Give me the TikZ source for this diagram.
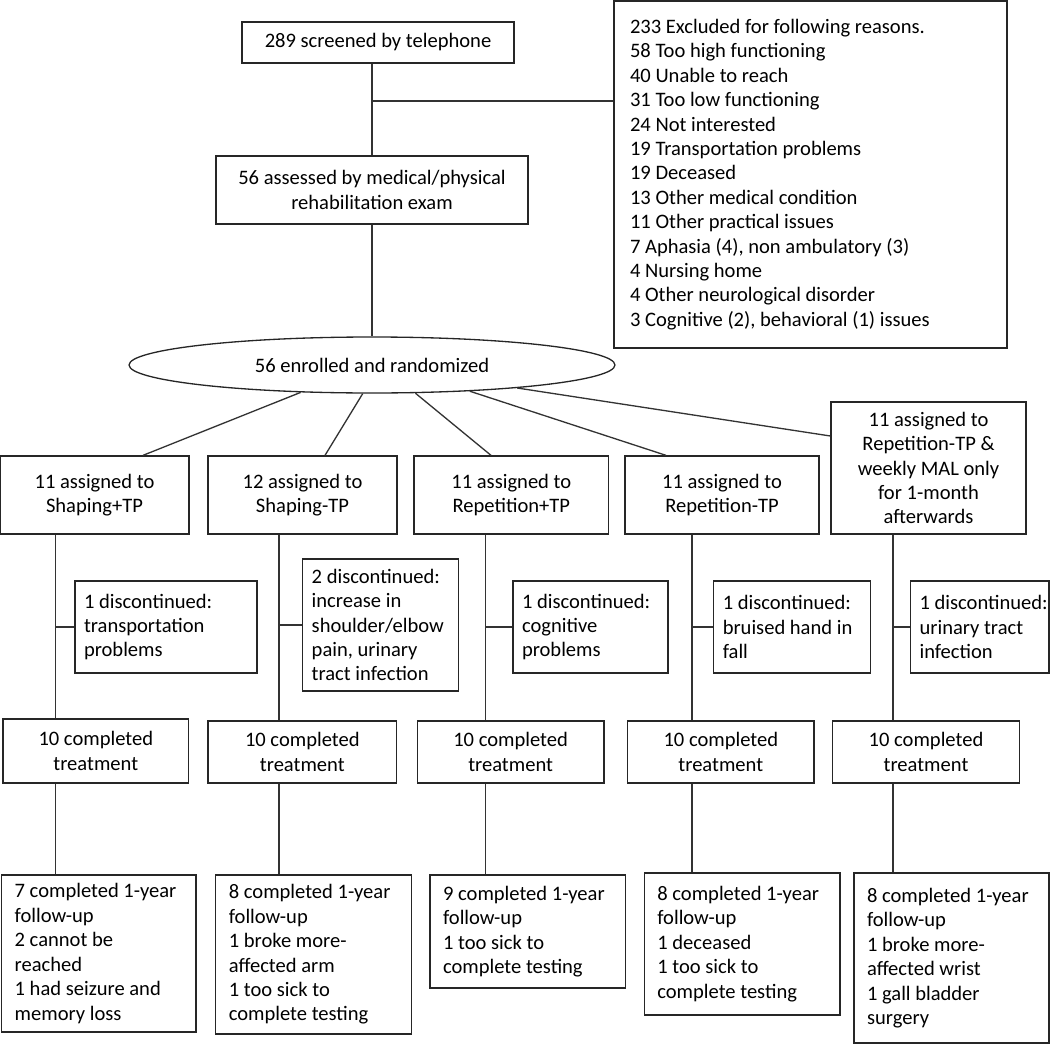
\documentclass[tikz,border=0pt]{standalone}
\usepackage{fontspec}
\setmainfont{Carlito}
\usetikzlibrary{shapes,calc}
\tikzstyle{box}=[draw=black!85,line width=0.75pt,rectangle,inner sep=0pt,align=center]
\tikzstyle{note}=[box,align=flush left,inner xsep=0.18cm]
\tikzstyle{list}=[box,align=flush left,inner xsep=0.26cm]
\tikzstyle{oval}=[draw=black!85,line width=0.75pt,ellipse,inner sep=0pt]
\tikzstyle{link}=[draw=black!80,line width=0.75pt]

\begin{document}
\begin{tikzpicture}[x=0.02cm,y=-0.02cm,font=\fontsize{11.7}{13.9}\selectfont]
    \useasboundingbox (0,0) rectangle (1050,1044);
    % screening
    \node[box,minimum width=5.44cm,minimum height=0.82cm] (top) at (378,42.5) {289 screened by telephone};
    \node[box,align=flush left,inner xsep=0.32cm,text width=7.22cm,minimum width=7.86cm,minimum height=6.94cm] (excl) at (810.5,174.5)
        {233 Excluded for following reasons.\\58 Too high functioning\\40 Unable to reach\\31 Too low functioning\\
         24 Not interested\\19 Transportation problems\\19 Deceased\\13 Other medical condition\\11 Other practical issues\\
         7 Aphasia (4), non ambulatory (3)\\4 Nursing home\\4 Other neurological disorder\\3 Cognitive (2), behavioral (1) issues};
    \node[box,minimum width=6.24cm,minimum height=1.36cm] (assess) at (372,190) {56 assessed by medical/physical\\rehabilitation exam};
    \node[oval,minimum width=9.72cm,minimum height=1.12cm] (ell) at (372,365) {56 enrolled and randomized};
    % groups
    \node[box,minimum width=3.78cm,minimum height=1.56cm] (b1) at (94.5,495) {11 assigned to\\Shaping+TP};
    \node[box,minimum width=3.78cm,minimum height=1.56cm] (b2) at (302.5,495) {12 assigned to\\Shaping-TP};
    \node[box,minimum width=3.89cm,minimum height=1.56cm] (b3) at (511.3,495) {11 assigned to\\Repetition+TP};
    \node[box,minimum width=3.88cm,minimum height=1.56cm] (b4) at (722,495) {11 assigned to\\Repetition-TP};
    \node[box,minimum width=3.90cm,minimum height=2.64cm] (b5) at (928.5,468) {11 assigned to\\Repetition-TP \&\\weekly MAL only\\for 1-month\\afterwards};
    % dropouts
    \node[note,text width=3.28cm,minimum width=3.64cm,minimum height=1.84cm] (d1) at (166,627) {1 discontinued:\\transportation\\problems};
    \node[note,text width=2.76cm,minimum width=3.12cm,minimum height=2.64cm] (d2) at (380.7,625) {2 discontinued:\\increase in\\shoulder/elbow\\pain, urinary\\tract infection};
    \node[note,text width=2.74cm,minimum width=3.10cm,minimum height=1.84cm] (d3) at (590.5,627) {1 discontinued:\\cognitive\\problems};
    \node[note,text width=2.77cm,minimum width=3.13cm,minimum height=1.84cm] (d4) at (792,627) {1 discontinued:\\bruised hand in\\fall};
    \node[note,text width=2.41cm,minimum width=2.77cm,minimum height=1.84cm] (d5) at (979.8,627) {\mbox{1 discontinued:}\\urinary tract\\infection};
    % treatment
    \node[box,minimum width=3.71cm,minimum height=1.28cm] (c1) at (95.8,751) {10 completed\\treatment};
    \node[box,minimum width=3.77cm,minimum height=1.24cm] (c2) at (302.3,752) {10 completed\\treatment};
    \node[box,minimum width=3.73cm,minimum height=1.24cm] (c3) at (510.6,752) {10 completed\\treatment};
    \node[box,minimum width=3.73cm,minimum height=1.24cm] (c4) at (720.8,752) {10 completed\\treatment};
    \node[box,minimum width=3.73cm,minimum height=1.24cm] (c5) at (926,752) {10 completed\\treatment};
    % follow-up
    \node[list,text width=3.37cm,minimum width=3.89cm,minimum height=3.14cm] (f1) at (98.9,953.5)
        {7 completed 1-year\\follow-up\\2 cannot be\\reached\\1 had seizure and\\memory loss};
    \node[list,text width=3.40cm,minimum width=3.92cm,minimum height=3.18cm] (f2) at (313.8,954.5)
        {8 completed 1-year\\follow-up\\1 broke more-\\affected arm\\1 too sick to\\complete testing};
    \node[list,text width=3.39cm,minimum width=3.91cm,minimum height=2.26cm] (f3) at (527.8,931.5)
        {9 completed 1-year\\follow-up\\1 too sick to\\complete testing};
    \node[list,text width=3.39cm,minimum width=3.91cm,minimum height=2.84cm] (f4) at (742.1,944)
        {8 completed 1-year\\follow-up\\1 deceased\\1 too sick to\\complete testing};
    \node[list,text width=3.38cm,minimum width=3.90cm,minimum height=3.40cm] (f5) at (951.5,958)
        {8 completed 1-year\\follow-up\\1 broke more-\\affected wrist\\1 gall bladder\\surgery};
    % connectors
    \coordinate (br) at (372,101);
    \path[link] (top.south -| assess.north) -- (assess.north);
    \path[link] (br) -- (br -| excl.west);
    \path[link] (assess.south) -- (ell.north);
    \foreach \ang/\dest/\dx in {201/b1/48.5, 252/b2/22.5, 327/b3/-20.3, 345/b4/-56}
        \path[link] (ell.\ang) -- ($(\dest.north)+(\dx,0)$);
    \path[link] (ell.351) -- ($(b5.west)+(0,-32)$);
    \foreach \i/\x in {1/55.5, 2/279, 3/485.5, 4/692, 5/893} {
        \coordinate (s\i) at (\x,0);
        \path[link] (b\i.south -| s\i) -- (c\i.north -| s\i);
        \path[link] (s\i |- d\i.west) -- (d\i.west);
        \path[link] (c\i.south -| s\i) -- (f\i.north -| s\i);
    }
\end{tikzpicture}
\end{document}
